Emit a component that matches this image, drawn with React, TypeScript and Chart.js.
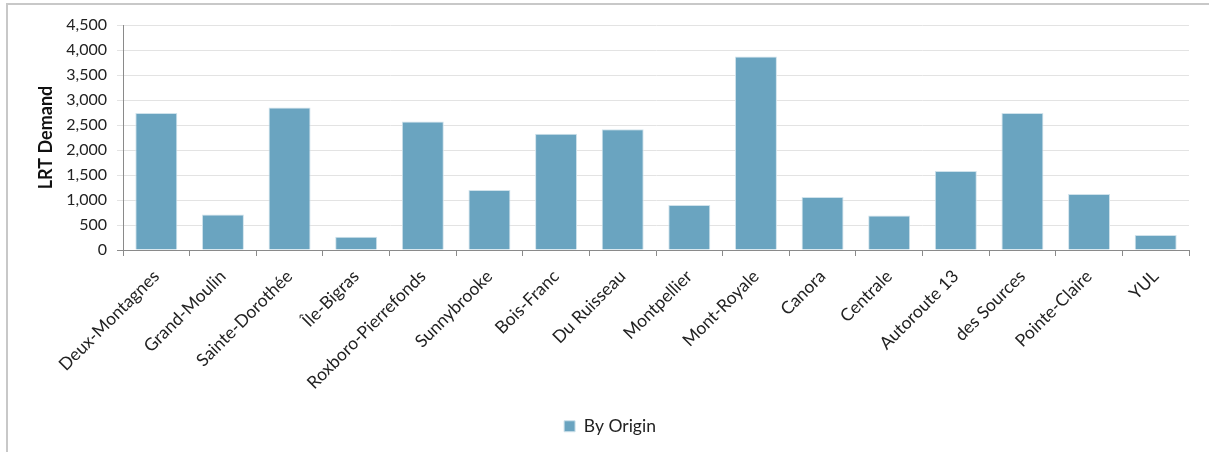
import React, { useEffect, useRef } from "react";
import { Chart, registerables } from "chart.js";

Chart.register(...registerables);

const categories = [
  "Deux-Montagnes",
  "Grand-Moulin",
  "Sainte-Dorothée",
  "Île-Bigras",
  "Roxboro-Pierrefonds",
  "Sunnybrooke",
  "Bois-Franc",
  "Du Ruisseau",
  "Montpellier",
  "Mont-Royale",
  "Canora",
  "Centrale",
  "Autoroute 13",
  "des Sources",
  "Pointe-Claire",
  "YUL",
];

const byOrigin = [2740, 710, 2850, 265, 2570, 1200, 2325, 2415, 900, 3870, 1060, 690, 1580, 2740, 1120, 300];

const seriesName = "By Origin";
const yTitle = "LRT Demand";
const yMin = 0;
const yMax = 4500;
const yStep = 500;

const FONT = "Lato, 'Open Sans', sans-serif";

export default function App() {
  const ref = useRef<HTMLCanvasElement | null>(null);

  useEffect(() => {
    if (!ref.current) return;
    const chart = new Chart(ref.current, {
      type: "bar",
      data: {
        labels: categories,
        datasets: [
          {
            label: seriesName,
            data: byOrigin,
            backgroundColor: "#6aa4c0",
            borderColor: "#cfe2eb",
            borderWidth: 1,
            barPercentage: 0.63,
            categoryPercentage: 1,
          },
        ],
      },
      options: {
        animation: false,
        responsive: false,
        maintainAspectRatio: false,
        layout: { padding: { left: 31, right: 20, top: 25, bottom: 7 } },
        plugins: {
          tooltip: { enabled: false },
          legend: {
            position: "bottom",
            labels: {
              font: { family: FONT, size: 17.5 },
              color: "#222",
              boxWidth: 11,
              boxHeight: 11,
              padding: 10,
            },
          },
        },
        scales: {
          x: {
            grid: {
              display: true,
              drawOnChartArea: false,
              drawTicks: true,
              tickLength: 6,
              tickColor: "#8a8a8a",
              offset: true,
            },
            border: { display: true, color: "#8a8a8a", width: 1 },
            ticks: {
              autoSkip: false,
              maxRotation: 45,
              minRotation: 45,
              padding: 10,
              color: "#222",
              font: { family: FONT, size: 17.5 },
            },
            afterFit: (scale: any) => {
              scale.height = 157.5;
            },
          },
          y: {
            min: yMin,
            max: yMax,
            ticks: {
              stepSize: yStep,
              padding: 10,
              color: "#222",
              font: { family: FONT, size: 16 },
              callback: (v: any) => Number(v).toLocaleString("en-US"),
            },
            grid: {
              color: "#e3e3e3",
              lineWidth: 1,
              tickLength: 6,
              tickColor: (ctx: any) => (ctx.tick && ctx.tick.value === 0 ? "#8a8a8a" : "#e3e3e3"),
            },
            border: { display: true, color: "#8a8a8a", width: 1 },
            title: {
              display: true,
              text: yTitle,
              color: "#111",
              font: { family: FONT, size: 18, weight: "bold" },
              padding: { top: 4, bottom: 4 },
            },
            afterFit: (scale: any) => {
              scale.width = 92;
            },
          },
        },
      },
    });
    return () => chart.destroy();
  }, []);

  return (
    <div>
      <canvas
        ref={ref}
        width={1209}
        height={452}
        style={{ position: "fixed", left: 0, top: 0, width: 1209, height: 452 }}
      />
      <div
        style={{
          position: "fixed",
          left: 6,
          top: 3,
          width: 1203,
          height: 449,
          boxSizing: "border-box",
          borderTop: "2px solid #c8c8c8",
          borderLeft: "2px solid #c8c8c8",
          pointerEvents: "none",
        }}
      />
    </div>
  );
}
